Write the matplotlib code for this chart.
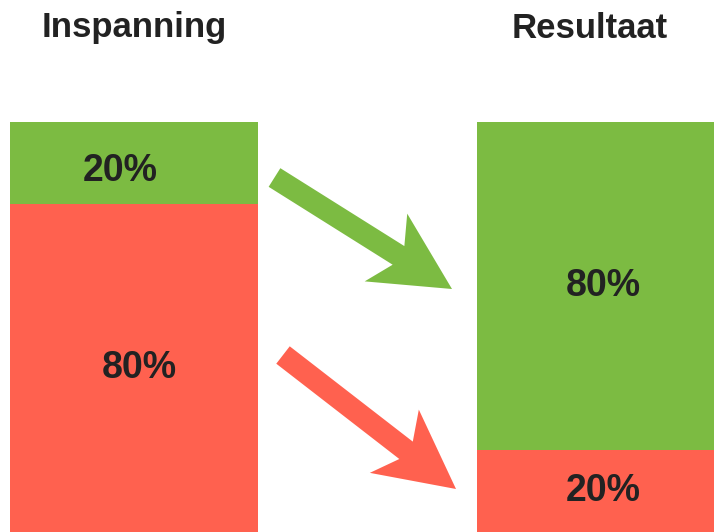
import matplotlib.pyplot as plt
import matplotlib.patches as mpatches

# Data
columns = ["Inspanning", "Resultaat"]
green_share = [20, 80]
red_share = [80, 20]
labels_green = ["20%", "80%"]
labels_red = ["80%", "20%"]

GREEN = "#7cbb42"
RED = "#ff614f"
TEXT = "#222222"

W, H = 714, 532
fig = plt.figure(figsize=(W / 100, H / 100), dpi=100)

# Bars axis: pixel x, percent y, spans from y=122px down to the bottom
bar_top = 122
ax = fig.add_axes([0, 0, 1, (H - bar_top) / H])
ax.set_xlim(0, W)
ax.set_ylim(0, 100)
ax.axis("off")

centers = [134, 601]
bar_w = 248
ax.bar(centers, red_share, width=bar_w, color=RED, linewidth=0)
ax.bar(centers, green_share, bottom=red_share, width=bar_w, color=GREEN, linewidth=0)

# small hand placement tweaks of the labels (pixels / percent)
green_dx = [-14, 2]
green_dy = [-2, 0]
red_dx = [5, 2]

for i, x in enumerate(centers):
    g, r = green_share[i], red_share[i]
    ax.text(x + green_dx[i], r + g / 2 + green_dy[i], labels_green[i], ha="center",
            va="center", fontsize=27, fontweight="bold", color=TEXT,
            family="Liberation Sans")
    ax.text(x + red_dx[i], r / 2, labels_red[i], ha="center", va="center",
            fontsize=27, fontweight="bold", color=TEXT, family="Liberation Sans")

# Overlay in pixel coordinates for titles and arrows
ov = fig.add_axes([0, 0, 1, 1])
ov.set_xlim(0, W)
ov.set_ylim(H, 0)
ov.axis("off")
ov.patch.set_alpha(0)

title_x = [134, 590]
for x, t in zip(title_x, columns):
    ov.text(x, 28, t, ha="center", va="center", fontsize=25,
            fontweight="bold", color=TEXT, family="Liberation Sans")

arrows = [((274.5, 177.5), (452, 289), GREEN), ((283, 355), (456, 489), RED)]
for (x0, y0), (x1, y1), c in arrows:
    ov.add_patch(mpatches.FancyArrow(x0, y0, x1 - x0, y1 - y0, width=22,
                                     head_width=80, head_length=78, overhang=0.19,
                                     length_includes_head=True, color=c, linewidth=0))

fig.savefig("out.png", dpi=100)
